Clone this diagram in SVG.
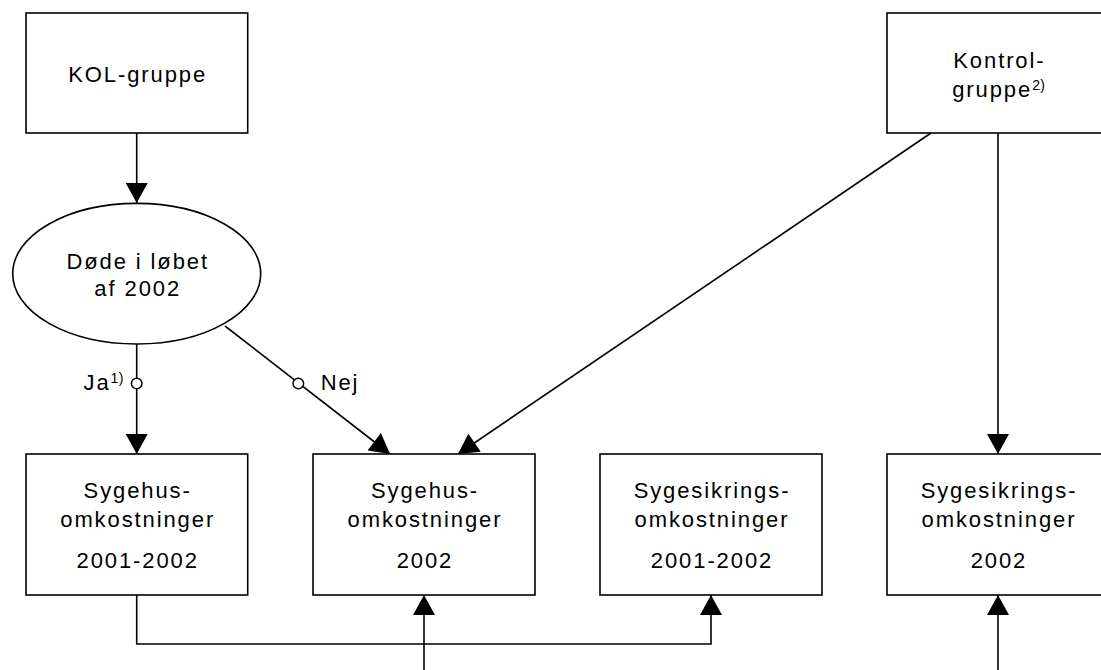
<svg xmlns="http://www.w3.org/2000/svg" width="1101" height="670" viewBox="0 0 1101 670">
<style>
.box{fill:#fff;stroke:#000;stroke-width:1.6}
.ln{fill:none;stroke:#000;stroke-width:1.6}
.dot{fill:#fff;stroke:#000;stroke-width:1.5}
text{font-family:"Liberation Sans",Arial,sans-serif;font-size:22px;letter-spacing:1.9px;fill:#000}
.c{text-anchor:middle}
.sup{font-size:14px;letter-spacing:0.4px}
</style>
<defs>
<marker id="ah" markerUnits="userSpaceOnUse" markerWidth="22" markerHeight="22" viewBox="0 0 20 22" refX="20" refY="11" orient="auto">
<path d="M0,0 L20,11 L0,22 Z" fill="#000"/>
</marker>
</defs>
<rect width="1101" height="670" fill="#fff"/>
<g id="connectors">
<line class="ln" x1="136.7" y1="133" x2="136.7" y2="203" marker-end="url(#ah)"/>
<line class="ln" x1="136.7" y1="344" x2="136.7" y2="454" marker-end="url(#ah)"/>
<line class="ln" x1="225" y1="326" x2="390" y2="454" marker-end="url(#ah)"/>
<line class="ln" x1="931" y1="133" x2="458" y2="454" marker-end="url(#ah)"/>
<line class="ln" x1="998" y1="133" x2="998" y2="454" marker-end="url(#ah)"/>
<polyline class="ln" points="136.7,595 136.7,644 711,644 711,595" marker-end="url(#ah)"/>
<line class="ln" x1="424" y1="672" x2="424" y2="595" marker-end="url(#ah)"/>
<line class="ln" x1="998" y1="672" x2="998" y2="595" marker-end="url(#ah)"/>
<circle class="dot" cx="136.7" cy="383.5" r="5.3"/>
<circle class="dot" cx="298.3" cy="383.5" r="5.3"/>
<text x="83.5" y="390">Ja<tspan class="sup" dy="-7">1)</tspan></text>
<text x="320.7" y="389.5">Nej</text>
</g>
<g id="kol">
<rect class="box" x="26" y="13" width="221.7" height="120"/>
<text class="c" x="137.7" y="82">KOL-gruppe</text>
</g>
<g id="kontrol">
<rect class="box" x="887" y="13" width="222" height="120"/>
<text class="c" x="999.4" y="67.5">Kontrol-</text>
<text class="c" x="998.8" y="96.5">gruppe<tspan class="sup" dy="-7">2)</tspan></text>
</g>
<g id="doede">
<ellipse class="box" cx="136.7" cy="273.7" rx="124" ry="70.3"/>
<text class="c" x="137.7" y="269.3">Døde i løbet</text>
<text class="c" x="137.7" y="295.7">af 2002</text>
</g>
<g id="sygehus1">
<rect class="box" x="26" y="454" width="221.7" height="141"/>
<text class="c" x="137.7" y="498.3">Sygehus-</text>
<text class="c" x="137.7" y="526.7">omkostninger</text>
<text class="c" x="137.7" y="567.7">2001-2002</text>
</g>
<g id="sygehus2">
<rect class="box" x="313" y="454" width="222" height="141"/>
<text class="c" x="425" y="498.3">Sygehus-</text>
<text class="c" x="425" y="526.7">omkostninger</text>
<text class="c" x="425" y="567.7">2002</text>
</g>
<g id="sygesikring1">
<rect class="box" x="600" y="454" width="222" height="141"/>
<text class="c" x="712" y="498.3">Sygesikrings-</text>
<text class="c" x="712" y="526.7">omkostninger</text>
<text class="c" x="712" y="567.7">2001-2002</text>
</g>
<g id="sygesikring2">
<rect class="box" x="887" y="454" width="222" height="141"/>
<text class="c" x="999" y="498.3">Sygesikrings-</text>
<text class="c" x="999" y="526.7">omkostninger</text>
<text class="c" x="999" y="567.7">2002</text>
</g>
</svg>
